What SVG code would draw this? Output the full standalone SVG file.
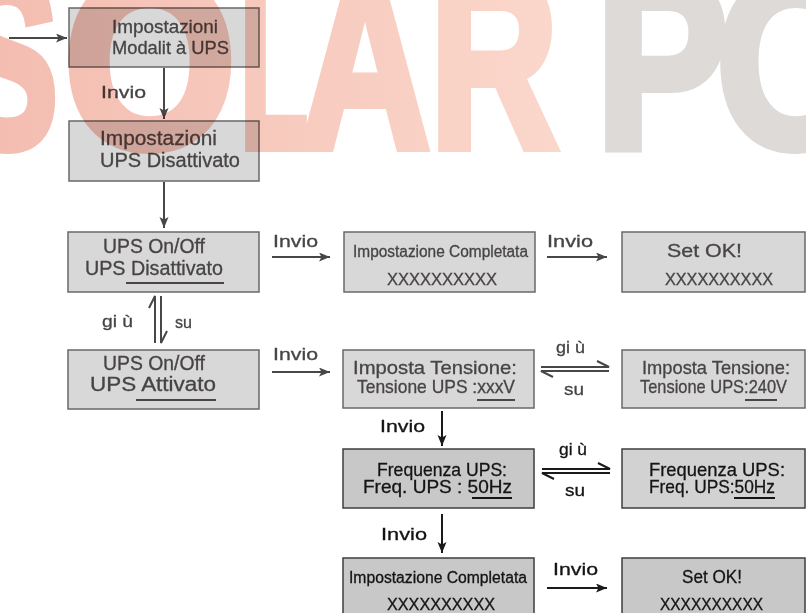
<svg xmlns="http://www.w3.org/2000/svg" width="806" height="613" viewBox="0 0 806 613">
  <defs>
    <style>
      .box { fill: #d8d8d8; stroke: #6a6868; stroke-width: 1.5; }
      .box.dk { fill: #c8c8c8; stroke: #3e3e3e; }
      .box.md { fill: #d2d2d2; stroke: #3e3e3e; }
      .t { font-family: "Liberation Sans", Arial, sans-serif; fill: #484444; stroke: #484444; stroke-width: 0.3; }
      .t.k { fill: #141414; stroke: #141414; }
      .ul { stroke: #4a4646; stroke-width: 2; }
      .ul.k { stroke: #141414; }
      .arr { stroke: #4a4646; stroke-width: 2; fill: none; marker-end: url(#head); }
      .arr.k { stroke: #1a1a1a; marker-end: url(#headk); }
      .harp { stroke: #4a4646; stroke-width: 2; fill: none; stroke-linejoin: miter; }
      .harp.k { stroke: #1a1a1a; }
      .wm { font-family: "Liberation Sans", Arial, sans-serif; font-weight: bold; font-size: 245px; stroke-width: 10; stroke-linejoin: miter; }
      .wm-red { fill: url(#wmRed); stroke: url(#wmRed); }
      .wm-grey { fill: #dddad7; stroke: #dddad7; }
      #watermark { mix-blend-mode: multiply; }
    </style>
    <marker id="head" markerWidth="12" markerHeight="10" refX="11" refY="4.5" orient="auto" markerUnits="userSpaceOnUse">
      <path d="M0,0 L11,4.5 L0,9 L2.5,4.5 z" fill="#4a4646"/>
    </marker>
    <marker id="headk" markerWidth="12" markerHeight="10" refX="11" refY="4.5" orient="auto" markerUnits="userSpaceOnUse">
      <path d="M0,0 L11,4.5 L0,9 L2.5,4.5 z" fill="#1a1a1a"/>
    </marker>
    <linearGradient id="wmRed" gradientUnits="userSpaceOnUse" x1="0" y1="0" x2="560" y2="0">
      <stop offset="0" stop-color="#f4bdb1"/>
      <stop offset="1" stop-color="#fbd7cb"/>
    </linearGradient>
  </defs>

  <rect width="806" height="613" fill="#ffffff"/>

  <!-- connectors and their labels -->
  <g id="connectors">
    <line class="arr" x1="9" y1="38" x2="67" y2="38"/>
    <line class="arr" x1="164" y1="68" x2="164" y2="119"/>
    <text class="t" x="101" y="98" font-size="17" textLength="45" lengthAdjust="spacingAndGlyphs">Invio</text>
    <line class="arr" x1="164" y1="182" x2="164" y2="228"/>

    <line class="arr" x1="272" y1="257" x2="330" y2="257"/>
    <text class="t" x="273" y="247" font-size="17" textLength="45" lengthAdjust="spacingAndGlyphs">Invio</text>
    <line class="arr" x1="547" y1="257" x2="607" y2="257"/>
    <text class="t" x="547" y="247" font-size="17" textLength="46" lengthAdjust="spacingAndGlyphs">Invio</text>

    <path class="harp" d="M155,343 L155,296 L149,308"/>
    <path class="harp" d="M161,296 L161,343 L167,331"/>
    <text class="t" x="102" y="327" font-size="17" textLength="31" lengthAdjust="spacingAndGlyphs">gi ù</text>
    <text class="t" x="175" y="328" font-size="17" textLength="17" lengthAdjust="spacingAndGlyphs">su</text>

    <line class="arr" x1="272" y1="372" x2="330" y2="372"/>
    <text class="t" x="273" y="360" font-size="17" textLength="45" lengthAdjust="spacingAndGlyphs">Invio</text>

    <path class="harp" d="M541,367 L609,367 L597,361"/>
    <path class="harp" d="M609,371 L541,371 L553,377"/>
    <text class="t" x="556" y="353" font-size="17" textLength="29" lengthAdjust="spacingAndGlyphs">gi ù</text>
    <text class="t" x="564" y="395" font-size="17" textLength="20" lengthAdjust="spacingAndGlyphs">su</text>

    <line class="arr k" x1="442" y1="411" x2="442" y2="446"/>
    <text class="t k" x="380" y="432" font-size="17" textLength="45" lengthAdjust="spacingAndGlyphs">Invio</text>

    <path class="harp k" d="M542,469 L610,469 L598,463"/>
    <path class="harp k" d="M610,473 L542,473 L554,479"/>
    <text class="t k" x="559" y="455" font-size="17" textLength="28" lengthAdjust="spacingAndGlyphs">gi ù</text>
    <text class="t k" x="565" y="496" font-size="17" textLength="20" lengthAdjust="spacingAndGlyphs">su</text>

    <line class="arr k" x1="442" y1="514" x2="442" y2="553"/>
    <text class="t k" x="381" y="540" font-size="17" textLength="46" lengthAdjust="spacingAndGlyphs">Invio</text>

    <line class="arr k" x1="547" y1="588" x2="607" y2="588"/>
    <text class="t k" x="553" y="575" font-size="17" textLength="45" lengthAdjust="spacingAndGlyphs">Invio</text>
  </g>

  <!-- menu screens -->
  <g id="ups-mode">
    <rect class="box" x="69" y="8" width="190" height="59"/>
    <text class="t" x="112" y="33" font-size="18.5" textLength="106" lengthAdjust="spacingAndGlyphs">Impostazioni</text>
    <text class="t" x="112" y="54" font-size="18.5" textLength="117" lengthAdjust="spacingAndGlyphs">Modalit à UPS</text>
  </g>

  <g id="ups-off-setting">
    <rect class="box" x="69" y="121" width="190" height="60"/>
    <text class="t" x="100" y="145" font-size="20" textLength="117" lengthAdjust="spacingAndGlyphs">Impostazioni</text>
    <text class="t" x="100" y="167" font-size="20" textLength="140" lengthAdjust="spacingAndGlyphs">UPS Disattivato</text>
  </g>

  <g id="ups-onoff-disabled">
    <rect class="box" x="68" y="232" width="191" height="60"/>
    <text class="t" x="103" y="253" font-size="19.5" textLength="102" lengthAdjust="spacingAndGlyphs">UPS On/Off</text>
    <text class="t" x="85" y="275" font-size="19.5" textLength="138" lengthAdjust="spacingAndGlyphs">UPS Disattivato</text>
    <line class="ul" x1="126" y1="283" x2="224" y2="283"/>
  </g>

  <g id="ups-onoff-enabled">
    <rect class="box" x="68" y="350" width="191" height="59"/>
    <text class="t" x="103" y="370" font-size="19.5" textLength="102" lengthAdjust="spacingAndGlyphs">UPS On/Off</text>
    <text class="t" x="90" y="391" font-size="19.5" textLength="126" lengthAdjust="spacingAndGlyphs">UPS Attivato</text>
    <line class="ul" x1="136" y1="400" x2="216" y2="400"/>
  </g>

  <g id="done-1">
    <rect class="box" x="344" y="232" width="191" height="60"/>
    <text class="t" x="353" y="257" font-size="16" textLength="175" lengthAdjust="spacingAndGlyphs">Impostazione Completata</text>
    <text class="t" x="387" y="285" font-size="17" textLength="110" lengthAdjust="spacingAndGlyphs">XXXXXXXXXX</text>
  </g>

  <g id="ok-1">
    <rect class="box" x="622" y="232" width="183" height="60"/>
    <text class="t" x="667" y="257" font-size="19" textLength="75" lengthAdjust="spacingAndGlyphs">Set OK!</text>
    <text class="t" x="665" y="285" font-size="17" textLength="108" lengthAdjust="spacingAndGlyphs">XXXXXXXXXX</text>
  </g>

  <g id="voltage-set">
    <rect class="box" x="343" y="350" width="191" height="58"/>
    <text class="t" x="353" y="374" font-size="19" textLength="164" lengthAdjust="spacingAndGlyphs">Imposta Tensione:</text>
    <text class="t" x="357" y="393" font-size="19" textLength="158" lengthAdjust="spacingAndGlyphs">Tensione UPS :xxxV</text>
    <line class="ul" x1="477" y1="400" x2="515" y2="400"/>
  </g>

  <g id="voltage-240">
    <rect class="box" x="622" y="350" width="183" height="58"/>
    <text class="t" x="642" y="374" font-size="19" textLength="148" lengthAdjust="spacingAndGlyphs">Imposta Tensione:</text>
    <text class="t" x="640" y="393" font-size="19" textLength="147" lengthAdjust="spacingAndGlyphs">Tensione UPS:240V</text>
    <line class="ul" x1="745" y1="400" x2="777" y2="400"/>
  </g>

  <g id="frequency-set">
    <rect class="box dk" x="343" y="449" width="191" height="59"/>
    <text class="t k" x="377" y="476" font-size="19" textLength="130" lengthAdjust="spacingAndGlyphs">Frequenza UPS:</text>
    <text class="t k" x="363" y="493" font-size="19" textLength="149" lengthAdjust="spacingAndGlyphs">Freq. UPS : 50Hz</text>
    <line class="ul k" x1="472" y1="498" x2="512" y2="498"/>
  </g>

  <g id="frequency-50">
    <rect class="box md" x="622" y="449" width="183" height="59"/>
    <text class="t k" x="649" y="476" font-size="19" textLength="136" lengthAdjust="spacingAndGlyphs">Frequenza UPS:</text>
    <text class="t k" x="649" y="493" font-size="19" textLength="126" lengthAdjust="spacingAndGlyphs">Freq. UPS:50Hz</text>
    <line class="ul k" x1="734" y1="498" x2="775" y2="498"/>
  </g>

  <g id="done-2">
    <rect class="box dk" x="343" y="558" width="191" height="62"/>
    <text class="t k" x="349" y="583" font-size="16" textLength="178" lengthAdjust="spacingAndGlyphs">Impostazione Completata</text>
    <text class="t k" x="387" y="610" font-size="17" textLength="108" lengthAdjust="spacingAndGlyphs">XXXXXXXXXX</text>
  </g>

  <g id="ok-2">
    <rect class="box dk" x="622" y="558" width="183" height="62"/>
    <text class="t k" x="682" y="583" font-size="19" textLength="60" lengthAdjust="spacingAndGlyphs">Set OK!</text>
    <text class="t k" x="660" y="610" font-size="17" textLength="103" lengthAdjust="spacingAndGlyphs">XXXXXXXXXX</text>
  </g>

  <!-- faint brand lettering printed over the top of the page -->
  <g id="watermark">
    <text class="wm wm-red" x="-44" y="147" textLength="102" lengthAdjust="spacingAndGlyphs">S</text>
    <text class="wm wm-red" x="64" y="147" textLength="172" lengthAdjust="spacingAndGlyphs">O</text>
    <text class="wm wm-red" x="240" y="147" textLength="68" lengthAdjust="spacingAndGlyphs">L</text>
    <text class="wm wm-red" x="300" y="147" textLength="130" lengthAdjust="spacingAndGlyphs">A</text>
    <text class="wm wm-red" x="430" y="147" textLength="128" lengthAdjust="spacingAndGlyphs">R</text>
    <text class="wm wm-grey" x="596" y="147" textLength="132" lengthAdjust="spacingAndGlyphs">P</text>
    <text class="wm wm-grey" x="716" y="147" textLength="160" lengthAdjust="spacingAndGlyphs">O</text>
  </g>
</svg>
